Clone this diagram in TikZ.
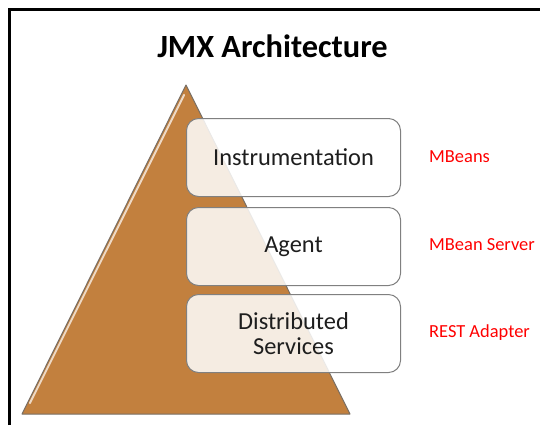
\documentclass[tikz,border=0pt]{standalone}
\usepackage{fontspec}
\setmainfont{Carlito}
\usetikzlibrary{calc}
\definecolor{pyr}{RGB}{194,128,62}
\definecolor{pyredge}{RGB}{120,110,100}
\definecolor{boxedge}{RGB}{128,128,128}
\definecolor{boxtext}{RGB}{30,30,30}
\definecolor{lblred}{RGB}{255,0,0}
\begin{document}
\begin{tikzpicture}[x=1bp,y=-1bp,
  layerbox/.style={draw=boxedge, line width=1bp, rounded corners=12bp,
    fill=white, fill opacity=0.85, text opacity=1, minimum width=214bp, minimum height=78bp,
    anchor=north west, inner sep=0pt, align=center, font=\fontsize{24.5}{27}\selectfont, text=boxtext},
  redlabel/.style={anchor=west, inner sep=0pt, text=lblred, font=\fontsize{18.5}{20}\selectfont},
  frameline/.style={line width=3bp, black}]
\useasboundingbox (0,0) rectangle (540,425);
% frame
\draw[frameline] (9.5,425) -- (9.5,9.5) -- (540,9.5);
% title
\node[font=\fontsize{32.5}{35}\selectfont\bfseries, inner sep=0pt] (title) at (272.5,46) {JMX Architecture};
% pyramid
\coordinate (apex) at (186,85);
\coordinate (bl) at (22,414);
\coordinate (br) at (350,414);
\fill[pyr] (apex) -- (br) -- (bl) -- cycle;
\draw[white!70!pyr, line width=2bp, line cap=round] ($(apex)!0.03!(bl)+(3,0)$) -- ($(bl)!0.03!(apex)+(3,-1)$);
\draw[pyredge, line width=1bp, line join=round] (apex) -- (br) -- (bl) -- cycle;
% boxes
\node[layerbox] (instr) at (186,118) {Instrumentation};
\node[layerbox] (agent) at (186,207) {Agent};
\node[layerbox] (dist) at (186,294) {Distributed\\[-2pt]Services};
% labels
\node[redlabel] (mbeans) at (429,157) {MBeans};
\node[redlabel] (server) at (429,245) {MBean Server};
\node[redlabel] (rest) at (429,333) {REST Adapter};
\end{tikzpicture}
\end{document}
